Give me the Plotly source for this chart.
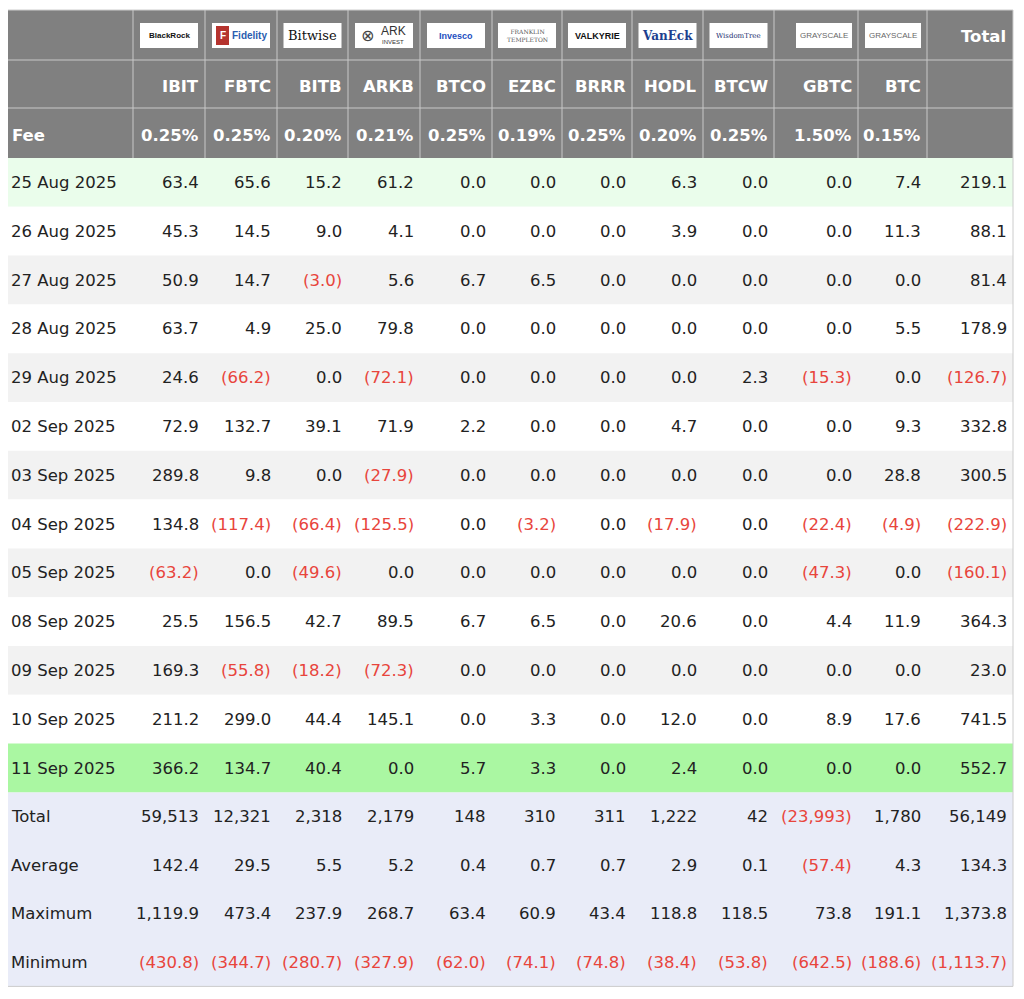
import plotly.graph_objects as go

tickers = ["IBIT","FBTC","BITB","ARKB","BTCO","EZBC","BRRR","HODL","BTCW","GBTC","BTC"]
issuers = ["BlackRock","Fidelity","Bitwise","ARK INVEST","Invesco","FRANKLIN TEMPLETON","VALKYRIE","VanEck","WisdomTree","GRAYSCALE","GRAYSCALE"]
fees = ["0.25%","0.25%","0.20%","0.21%","0.25%","0.19%","0.25%","0.20%","0.25%","1.50%","0.15%"]
dates = ["25 Aug 2025","26 Aug 2025","27 Aug 2025","28 Aug 2025","29 Aug 2025","02 Sep 2025",
         "03 Sep 2025","04 Sep 2025","05 Sep 2025","08 Sep 2025","09 Sep 2025","10 Sep 2025","11 Sep 2025"]
flows = [
 [63.4,65.6,15.2,61.2,0,0,0,6.3,0,0,7.4,219.1],
 [45.3,14.5,9.0,4.1,0,0,0,3.9,0,0,11.3,88.1],
 [50.9,14.7,-3.0,5.6,6.7,6.5,0,0,0,0,0,81.4],
 [63.7,4.9,25.0,79.8,0,0,0,0,0,0,5.5,178.9],
 [24.6,-66.2,0,-72.1,0,0,0,0,2.3,-15.3,0,-126.7],
 [72.9,132.7,39.1,71.9,2.2,0,0,4.7,0,0,9.3,332.8],
 [289.8,9.8,0,-27.9,0,0,0,0,0,0,28.8,300.5],
 [134.8,-117.4,-66.4,-125.5,0,-3.2,0,-17.9,0,-22.4,-4.9,-222.9],
 [-63.2,0,-49.6,0,0,0,0,0,0,-47.3,0,-160.1],
 [25.5,156.5,42.7,89.5,6.7,6.5,0,20.6,0,4.4,11.9,364.3],
 [169.3,-55.8,-18.2,-72.3,0,0,0,0,0,0,0,23.0],
 [211.2,299.0,44.4,145.1,0,3.3,0,12.0,0,8.9,17.6,741.5],
 [366.2,134.7,40.4,0,5.7,3.3,0,2.4,0,0,0,552.7],
]
stat_labels = ["Total","Average","Maximum","Minimum"]
stat_total = [59513,12321,2318,2179,148,310,311,1222,42,-23993,1780,56149]
stat_avg = [142.4,29.5,5.5,5.2,0.4,0.7,0.7,2.9,0.1,-57.4,4.3,134.3]
stat_max = [1119.9,473.4,237.9,268.7,63.4,60.9,43.4,118.8,118.5,73.8,191.1,1373.8]
stat_min = [-430.8,-344.7,-280.7,-327.9,-62.0,-74.1,-74.8,-38.4,-53.8,-642.5,-188.6,-1113.7]

xb = [7,133,205,277,348,420,492,562,632,703,774,858,927,1013]
HEAD = "#808080"; RED = "#e8453c"; TXT = "#222222"
FONT = "DejaVu Sans"
FS = 16.5

def fmt(v, dec=1):
    s = f"{abs(v):,.{dec}f}"
    return (f"({s})", RED) if v < 0 else (s, TXT)

shapes = []; ann = []
def rect(x0,y0,x1,y1,fill,line=None,w=0):
    shapes.append(dict(type="rect",x0=x0,x1=x1,y0=y0,y1=y1,fillcolor=fill,
                       line=dict(color=line or fill,width=w),layer="below"))
def text(x,y,t,color=TXT,size=FS,anchor="right",bold=False,fam=FONT):
    ann.append(dict(x=x,y=y,text=f"<b>{t}</b>" if bold else t,showarrow=False,xanchor=anchor,
                    yanchor="middle",font=dict(color=color,size=size,family=fam)))

hy = [10,60,108,158]
rect(xb[0],hy[0],xb[-1],hy[3],HEAD)
for i in range(1,len(xb)-1):
    shapes.append(dict(type="line",x0=xb[i],x1=xb[i],y0=hy[0],y1=hy[3],line=dict(color="#c8c8c8",width=1)))
for y in hy[1:3]:
    shapes.append(dict(type="line",x0=xb[0],x1=xb[-1],y0=y,y1=y,line=dict(color="#c8c8c8",width=1)))

logo_style = {"BlackRock":("#111",8,True,"Liberation Sans"),"Fidelity":("#2a5db0",10,True,"Liberation Sans"),
              "Bitwise":("#111",13,False,"DejaVu Serif"),"ARK INVEST":("#333",7,False,"Liberation Sans"),
              "Invesco":("#1d4fbf",9,True,"Liberation Sans"),"FRANKLIN TEMPLETON":("#555",6,False,"DejaVu Serif"),
              "VALKYRIE":("#111",9,True,"Liberation Sans"),"VanEck":("#1d3f8f",12,True,"DejaVu Serif"),
              "WisdomTree":("#1d2f6f",7,False,"DejaVu Serif"),"GRAYSCALE":("#666",8,False,"Liberation Sans")}
for j,(tk,iss,fee) in enumerate(zip(tickers,issuers,fees)):
    x0,x1 = xb[j+1],xb[j+2]
    cx = (x0+x1)/2
    if iss == "GRAYSCALE":
        bx0,bx1 = x1-62,x1-6
    else:
        bx0,bx1 = cx-29,cx+29
    rect(bx0,23,bx1,48,"white")
    c,s,b,f = logo_style[iss]
    if iss == "Fidelity":
        rect(bx0+4,26,bx0+17,45,"#b5332e")
        text(bx0+10.5,35.5,"F","white",10,"center",True,"Liberation Sans")
        text(bx0+37,35.5,"Fidelity",c,s,"center",b,f)
    elif iss == "ARK INVEST":
        text(bx0+12,35.5,"⊗","#444",16,"center",False,"DejaVu Sans")
        text(bx0+38,31,"ARK","#333",12,"center",False,"Liberation Sans")
        text(bx0+38,42,"INVEST","#333",6,"center",False,"Liberation Sans")
    elif iss == "FRANKLIN TEMPLETON":
        text((bx0+bx1)/2,35.5,"FRANKLIN<br>TEMPLETON",c,s,"center",b,f)
    else:
        text((bx0+bx1)/2,35.5,iss,c,s,"center",b,f)
    text(x1-4,86,tk,"white",FS,"right",True)
    text(x1-4,135,fee,"white",FS,"right",True)
text(xb[-1]-5,36,"Total","white",FS,"right",True)
text(10,135,"Fee","white",FS,"left",True)

rh = 48.8
for i,(d,row) in enumerate(zip(dates,flows)):
    y0 = hy[3]+i*rh
    if i == 0: fill = "#eafdeb"
    elif i == len(dates)-1: fill = "#aaf7a2"
    elif i % 2 == 1: fill = "white"
    else: fill = "#f2f2f2"
    rect(xb[0],y0,xb[-1],y0+rh,fill)
    yc = y0+rh/2
    text(9,yc,d,TXT,FS,"left")
    for j,v in enumerate(row):
        t,c = fmt(v)
        text(xb[j+2]-4,yc,t,c,FS,"right")

sy0 = hy[3]+len(dates)*rh
sh = 48.5
rect(xb[0],sy0,xb[-1],sy0+4*sh,"#e9ecf8")
for k,(lab,vals,dec) in enumerate(zip(stat_labels,[stat_total,stat_avg,stat_max,stat_min],[0,1,1,1])):
    yc = sy0+(k+0.5)*sh
    text(9,yc,lab,TXT,FS,"left")
    for j,v in enumerate(vals):
        t,c = fmt(v,dec)
        text(xb[j+2]-4,yc,t,c,FS,"right")

shapes.append(dict(type="rect",x0=xb[0],x1=xb[-1],y0=hy[0],y1=sy0+4*sh,line=dict(color="#cccccc",width=1),fillcolor="rgba(0,0,0,0)"))

fig = go.Figure()
fig.update_layout(width=1024,height=999,margin=dict(l=0,r=0,t=0,b=0),
                  paper_bgcolor="white",plot_bgcolor="white",shapes=shapes,annotations=ann,
                  xaxis=dict(range=[8,1032],visible=False,fixedrange=True),
                  yaxis=dict(range=[1007,8],visible=False,fixedrange=True),showlegend=False)
fig.write_html("out.html")
